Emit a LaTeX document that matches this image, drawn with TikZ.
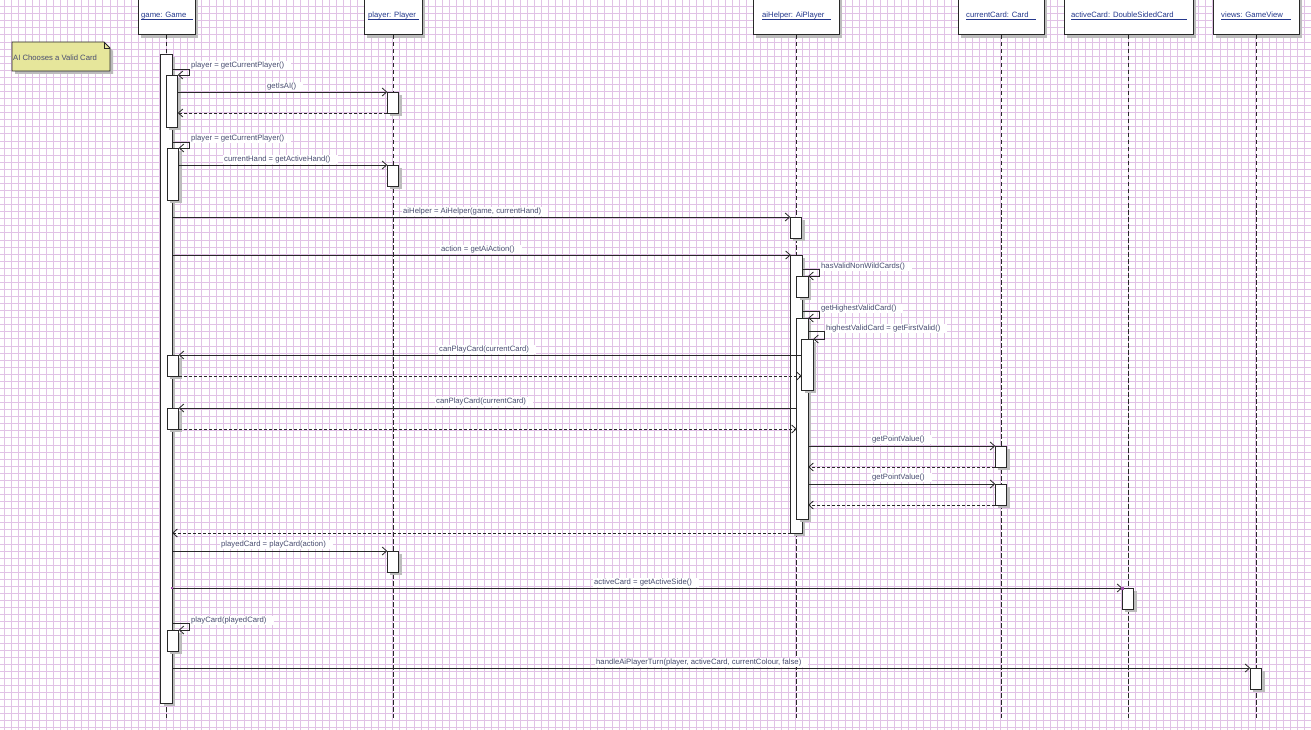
\documentclass[tikz,border=0pt]{standalone}
\usepackage{fontspec}
\setmainfont{Liberation Sans}
\usetikzlibrary{arrows.meta,shadows}
\definecolor{gridc}{RGB}{225,194,230}
\definecolor{linec}{RGB}{40,40,40}
\definecolor{shadowc}{RGB}{188,188,188}
\definecolor{headtxt}{RGB}{35,55,140}
\definecolor{msgtxt}{RGB}{72,76,112}
\definecolor{notefill}{RGB}{230,230,155}
\definecolor{handlec}{RGB}{160,80,170}
\begin{document}
\begin{tikzpicture}[x=1pt,y=-1pt,
  txt/.style={font=\fontsize{7.7}{8}\selectfont},
  head/.style={draw=linec, fill=white, line width=1pt, inner sep=0pt, outer sep=0pt,
    anchor=south, minimum height=45pt,
    drop shadow={shadow xshift=3pt, shadow yshift=-3pt, fill=shadowc, opacity=1}},
  headlbl/.style={txt, text=headtxt, inner sep=0pt, anchor=base west},
  ul/.style={draw=headtxt, line width=0.7pt},
  life/.style={draw=linec, line width=0.9pt, dash pattern=on 4.5pt off 2.5pt},
  act/.style={draw=linec, fill=white, line width=0.9pt, inner sep=0pt, outer sep=0pt,
    anchor=north, minimum width=11.5pt,
    drop shadow={shadow xshift=3pt, shadow yshift=-3pt, fill=shadowc, opacity=1}},
  lbl/.style={txt, text=msgtxt, fill=white, inner xsep=1pt, inner ysep=1.2pt, anchor=west,
    yshift=-1.5pt, execute at end node=\kern6pt},
  msg/.style={draw=linec, line width=0.8pt, -{Straight Barb[length=4.5pt,width=8pt,line width=0.8pt]}},
  ret/.style={msg, dash pattern=on 3pt off 2pt},
]
\useasboundingbox (0,0) rectangle (1311,730);
\fill[white] (0,0) rectangle (1311,730);

% background grid
\foreach \i in {0,...,185} \draw[gridc, line width=1pt] ({4+7.07*\i},0) -- ({4+7.07*\i},730);
\foreach \j in {0,...,103} \draw[gridc, line width=1pt] (0,{6.7+7.07*\j}) -- (1311,{6.7+7.07*\j});

% note
\fill[shadowc] (15,45) -- (107,45) -- (113,51) -- (113,74) -- (15,74) -- cycle;
\draw[linec, fill=notefill, line width=0.9pt] (12,42) -- (104,42) -- (110,48) -- (110,71) -- (12,71) -- cycle;
\draw[linec, line width=0.7pt] (104,42) -- (104,48) -- (110,48);
\node[txt, text=msgtxt, anchor=west, inner sep=0pt] (note) at (13,58) {AI Chooses a Valid Card};

% lifeline heads
\node[head, minimum width=57pt]  (game)  at (166.5,35) {};
\node[head, minimum width=58pt]  (player) at (393,35) {};
\node[head, minimum width=86pt]  (ai)    at (796,35) {};
\node[head, minimum width=86pt]  (cur)   at (1001,35) {};
\node[head, minimum width=129pt] (actc)  at (1128.5,35) {};
\node[head, minimum width=86pt]  (views) at (1256,35) {};

\node[headlbl] (gamel)   at (141,18)  {game: Game};
\node[headlbl] (playerl) at (368,18)  {player: Player};
\node[headlbl] (ail)     at (762,18)  {aiHelper: AiPlayer};
\node[headlbl] (curl)    at (966,18)  {currentCard: Card};
\node[headlbl] (actcl)   at (1071,18) {activeCard: DoubleSidedCard};
\node[headlbl] (viewsl)  at (1221,18) {views: GameView};
\draw[ul] ([yshift=-1.4pt]gamel.base west) -- +(52,0);
\draw[ul] ([yshift=-1.4pt]playerl.base west) -- +(51,0);
\draw[ul] ([yshift=-1.4pt]ail.base west) -- +(69,0);
\draw[ul] ([yshift=-1.4pt]curl.base west) -- +(70,0);
\draw[ul] ([yshift=-1.4pt]actcl.base west) -- +(116,0);
\draw[ul] ([yshift=-1.4pt]viewsl.base west) -- +(70,0);

% lifelines
\coordinate (gameend)   at (166.5,718);
\coordinate (playerend) at (393,718);
\coordinate (aiend)     at (796,718);
\coordinate (curend)    at (1001,718);
\coordinate (actcend)   at (1128.5,718);
\coordinate (viewsend)  at (1256,718);
\draw[life] (game.south) -- (gameend);
\draw[life] (player.south) -- (playerend);
\draw[life] (ai.south) -- (aiend);
\draw[life] (cur.south) -- (curend);
\draw[life] (actc.south) -- (actcend);
\draw[life] (views.south) -- (viewsend);

% activations: game
\node[act, minimum height=649pt] (gA) at (166.5,54) {};
\node[act, minimum height=52pt]  (gB) at (172,75) {};
\node[act, minimum height=52pt]  (gC) at (173,148) {};
\node[act, minimum height=21pt]  (gD) at (173,355) {};
\node[act, minimum height=21pt]  (gE) at (173,408) {};
\node[act, minimum height=21pt]  (gF) at (173,630) {};
% activations: player
\node[act, minimum height=21pt] (pA) at (393,92) {};
\node[act, minimum height=21pt] (pB) at (393,165) {};
\node[act, minimum height=21pt] (pC) at (393,551) {};
% activations: aiHelper
\node[act, minimum height=21pt]  (aA) at (796,217) {};
\node[act, minimum height=278pt] (aB) at (796.5,255) {};
\node[act, minimum height=21pt]  (aC) at (802.5,276) {};
\node[act, minimum height=201pt] (aD) at (802.5,318) {};
\node[act, minimum height=51pt]  (aE) at (807.5,339) {};
% activations: currentCard, activeCard, views
\node[act, minimum height=21pt] (cA) at (1001,446) {};
\node[act, minimum height=21pt] (cB) at (1001,484) {};
\node[act, minimum height=21pt] (dA) at (1128,588) {};
\node[act, minimum height=21pt] (vA) at (1256,668) {};

% messages
\draw[msg] ([yshift=6pt]gB.north -| gA.east) -- ++(17,0) |- (gB.north east);
\node[lbl] (m1) at (190,64) {player = getCurrentPlayer()};

\draw[msg] (gB.east |- pA.north) -- (pA.north west);
\node[lbl] (m2) at (266,85) {getIsAI()};
\draw[ret] (pA.south west) -- (gB.east |- pA.south);

\draw[msg] ([yshift=6pt]gC.north -| gA.east) -- ++(17,0) |- (gC.north east);
\node[lbl] (m3) at (190,137) {player = getCurrentPlayer()};

\draw[msg] (gC.east |- pB.north) -- (pB.north west);
\node[lbl] (m4) at (223,158) {currentHand = getActiveHand()};

\draw[msg] (gA.east |- aA.north) -- (aA.north west);
\node[lbl] (m5) at (402,210) {aiHelper = AiHelper(game, currentHand)};

\draw[msg] (gA.east |- aB.north) -- (aB.north west);
\node[lbl] (m6) at (440,248) {action = getAiAction()};

\draw[msg] ([yshift=7pt]aC.north -| aB.east) -- ++(17,0) |- (aC.north east);
\node[lbl] (m7) at (820,265) {hasValidNonWildCards()};

\draw[msg] ([yshift=7pt]aD.north -| aB.east) -- ++(17,0) |- (aD.north east);
\node[lbl] (m8) at (820,307) {getHighestValidCard()};

\draw[msg] ([yshift=8pt]aE.north -| aD.east) -- ++(16,0) |- (aE.north east);
\node[lbl] (m9) at (825,327) {highestValidCard = getFirstValid()};

\draw[msg] (aE.west |- gD.north) -- (gD.north east);
\node[lbl] (m10) at (438,348) {canPlayCard(currentCard)};
\draw[ret] (gD.south east) -- (aE.west |- gD.south);

\draw[msg] (aD.west |- gE.north) -- (gE.north east);
\node[lbl] (m11) at (435,400) {canPlayCard(currentCard)};
\draw[ret] (gE.south east) -- (aD.west |- gE.south);

\draw[msg] (aD.east |- cA.north) -- (cA.north west);
\node[lbl] (m12) at (871,438) {getPointValue()};
\draw[ret] (cA.south west) -- (aD.east |- cA.south);

\draw[msg] (aD.east |- cB.north) -- (cB.north west);
\node[lbl] (m13) at (871,476) {getPointValue()};
\draw[ret] (cB.south west) -- (aD.east |- cB.south);

\draw[ret] (aB.south west) -- (gA.east |- aB.south);

\draw[msg] (gA.east |- pC.north) -- (pC.north west);
\node[lbl] (m14) at (220,543) {playedCard = playCard(action)};

\draw[msg] (gA.east |- dA.north) -- (dA.north west);
\node[lbl] (m15) at (593,581) {activeCard = getActiveSide()};
\fill[handlec] ([xshift=-1pt,yshift=1pt]gA.east |- dA.north) rectangle ++(2,2);
\fill[handlec] ([xshift=-1pt,yshift=1.5pt]dA.north west) rectangle ++(3,3);

\draw[msg] ([yshift=7pt]gF.north -| gA.east) -- ++(17,0) |- (gF.north east);
\node[lbl] (m16) at (190,619) {playCard(playedCard)};

\draw[msg] (gA.east |- vA.north) -- (vA.north west);
\node[lbl] (m17) at (595,661) {handleAiPlayerTurn(player, activeCard, currentColour, false)};
\end{tikzpicture}
\end{document}
